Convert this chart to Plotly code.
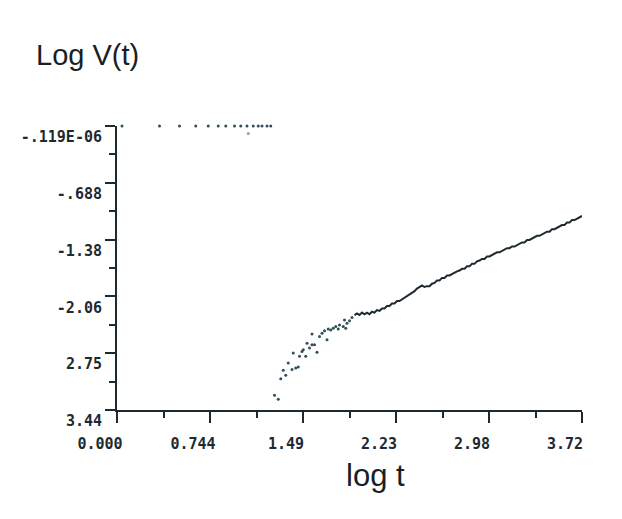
import plotly.graph_objects as go

# ---- data ----
# early plateau: log V(t) ~ 0 for small t
plateau_x = [0.04, 0.34, 0.50, 0.63, 0.73, 0.81, 0.87, 0.94, 0.99, 1.04, 1.09, 1.13, 1.16, 1.20, 1.23]
plateau_y = [0.0, 0.0, 0.0, 0.0, 0.0, 0.0, 0.0, 0.0, 0.0, 0.0, 0.0, 0.0, 0.0, 0.0, 0.0]
stray_x = [1.05]
stray_y = [-0.09]

# scattered points after the drop
scatter_x = [1.26, 1.29, 1.31, 1.33, 1.35, 1.37, 1.40, 1.41, 1.43, 1.45, 1.46, 1.48, 1.49,
             1.51, 1.52, 1.54, 1.56, 1.56, 1.58, 1.60, 1.62, 1.64, 1.66, 1.68, 1.69, 1.71,
             1.73, 1.75, 1.77, 1.78, 1.81, 1.82, 1.83, 1.84, 1.86, 1.88]
scatter_y = [-3.26, -3.31, -3.06, -2.96, -3.02, -2.87, -2.95, -2.75, -2.93, -2.92, -2.79, -2.73, -2.71,
             -2.79, -2.63, -2.69, -2.52, -2.65, -2.65, -2.74, -2.55, -2.51, -2.48, -2.59, -2.46, -2.47,
             -2.45, -2.43, -2.46, -2.41, -2.43, -2.35, -2.45, -2.39, -2.36, -2.32]

# dense (continuous-looking) part
line_x = [1.90, 1.92, 1.94, 1.96, 1.98, 2.00, 2.02, 2.04, 2.06, 2.08, 2.10, 2.12, 2.14, 2.16,
          2.18, 2.20, 2.22, 2.24, 2.26, 2.28, 2.30, 2.32, 2.34, 2.36, 2.38, 2.40, 2.42, 2.44,
          2.46, 2.48, 2.50, 2.52, 2.54, 2.56, 2.58, 2.60, 2.62, 2.64, 2.66, 2.68, 2.70, 2.72,
          2.74, 2.76, 2.78, 2.80, 2.82, 2.84, 2.86, 2.88, 2.90, 2.92, 2.94, 2.96, 2.98, 3.00,
          3.02, 3.04, 3.06, 3.08, 3.10, 3.12, 3.14, 3.16, 3.18, 3.20, 3.22, 3.24, 3.26, 3.28,
          3.30, 3.32, 3.34, 3.36, 3.38, 3.40, 3.42, 3.44, 3.46, 3.48, 3.50, 3.52, 3.54, 3.56,
          3.58, 3.60, 3.62, 3.64, 3.66, 3.68, 3.70, 3.72]
line_y = [-2.29, -2.27, -2.29, -2.26, -2.28, -2.26, -2.28, -2.25, -2.26, -2.23, -2.24, -2.21, -2.21, -2.18,
          -2.18, -2.15, -2.15, -2.12, -2.12, -2.10, -2.09, -2.06, -2.05, -2.02, -2.00, -1.97, -1.95, -1.93,
          -1.95, -1.94, -1.94, -1.91, -1.90, -1.87, -1.87, -1.84, -1.84, -1.81, -1.81, -1.79, -1.78, -1.76,
          -1.75, -1.73, -1.73, -1.70, -1.70, -1.67, -1.67, -1.64, -1.63, -1.61, -1.61, -1.58, -1.58, -1.56,
          -1.55, -1.53, -1.53, -1.51, -1.50, -1.48, -1.48, -1.46, -1.46, -1.44, -1.43, -1.41, -1.41, -1.38,
          -1.38, -1.36, -1.35, -1.33, -1.33, -1.31, -1.30, -1.28, -1.28, -1.25, -1.25, -1.23, -1.22, -1.20,
          -1.20, -1.17, -1.17, -1.14, -1.14, -1.12, -1.11, -1.09]

# axis ticks
x_tickvals = [0.0, 0.744, 1.488, 2.232, 2.976, 3.72]
x_ticktext = ["0.000", "0.744", "1.49", "2.23", "2.98", "3.72"]
y_tickvals = [0.0, -0.688, -1.376, -2.064, -2.752, -3.44]
y_ticktext = ["-.119E-06", "-.688", "-1.38", "-2.06", "2.75", "3.44"]

INK = "#1d2a30"
DOT = "#2f5058"
MONO = "DejaVu Sans Mono"

fig = go.Figure()
fig.add_trace(go.Scatter(x=plateau_x, y=plateau_y, mode="markers",
                         marker=dict(size=3, color=DOT), cliponaxis=False, showlegend=False))
fig.add_trace(go.Scatter(x=stray_x, y=stray_y, mode="markers",
                         marker=dict(size=3, color="#7fa8b8"), showlegend=False))
fig.add_trace(go.Scatter(x=scatter_x, y=scatter_y, mode="markers",
                         marker=dict(size=3, color=DOT), showlegend=False))
fig.add_trace(go.Scatter(x=line_x, y=line_y, mode="lines",
                         line=dict(color=INK, width=2), showlegend=False))

fig.update_layout(
    width=622, height=519, autosize=False,
    margin=dict(l=117, r=40, t=126, b=109),
    paper_bgcolor="white", plot_bgcolor="white",
    showlegend=False,
    xaxis=dict(range=[0, 3.72], showgrid=False, zeroline=False,
               showline=True, linecolor=INK, linewidth=2,
               ticks="outside", ticklen=11, tickwidth=2, tickcolor=INK,
               tickvals=x_tickvals, ticktext=x_ticktext,
               tickfont=dict(family=MONO, size=15, color=INK, weight="bold"),
               ticklabelshift=-17, ticklabelstandoff=8,
               minor=dict(ticks="outside", ticklen=6, tickwidth=2, tickcolor=INK,
                          tick0=0, dtick=0.372, showgrid=False)),
    yaxis=dict(range=[-3.44, 0], showgrid=False, zeroline=False,
               showline=True, linecolor=INK, linewidth=2,
               ticks="outside", ticklen=10, tickwidth=2, tickcolor=INK,
               tickvals=y_tickvals, ticktext=y_ticktext,
               tickfont=dict(family=MONO, size=15, color=INK, weight="bold"),
               ticklabelshift=11,
               minor=dict(ticks="outside", ticklen=6, tickwidth=2, tickcolor=INK,
                          tick0=0, dtick=0.344, showgrid=False)),
    annotations=[
        dict(text="Log V(t)", xref="paper", yref="paper", x=-0.178, y=1.25,
             xanchor="left", yanchor="middle", showarrow=False,
             font=dict(family="Liberation Sans", size=29, color="#1a1f24")),
        dict(text="log t", xref="paper", yref="paper", x=0.555, y=-0.23,
             xanchor="center", yanchor="middle", showarrow=False,
             font=dict(family="Liberation Sans", size=31, color="#1a1f24")),
    ],
)

fig.write_html("out.html")
